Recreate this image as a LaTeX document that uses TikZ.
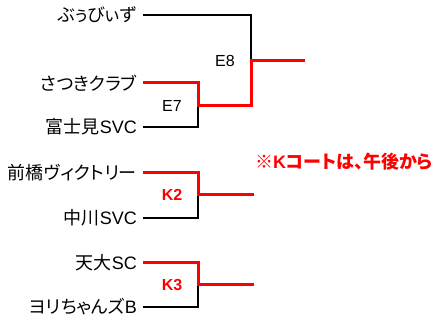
\documentclass[tikz,border=0pt]{standalone}
\usepackage{fontspec}
\setmainfont{Noto Sans CJK JP}[RawFeature={+palt}]
\newfontfamily\lat{Liberation Sans}
\definecolor{bred}{RGB}{255,0,0}
\begin{document}
\begin{tikzpicture}[x=1pt,y=-1pt,
  team/.style={anchor=east,inner sep=0pt,font=\fontsize{18}{18}\selectfont},
  blk/.style={line width=2pt,black},
  win/.style={line width=3pt,bred},
  elab/.style={inner sep=0pt,font=\fontsize{16}{16}\selectfont\lat},
  klab/.style={inner sep=0pt,text=bred,font=\fontsize{16}{16}\selectfont\lat\bfseries},
]
\useasboundingbox (0,0) rectangle (442,320);
% teams
\node[team] (t1) at (137,15) {ぶぅびぃず};
\node[team] (t2) at (137,83) {さつきクラブ};
\node[team] (t3) at (137,127) {富士見{\lat SVC}};
\node[team] (t4) at (137,173) {前橋ヴィクトリー};
\node[team] (t5) at (137,218) {中川{\lat SVC}};
\node[team] (t6) at (137,263) {天大{\lat SC}};
\node[team] (t7) at (137,307) {ヨリちゃんズ{\lat B}};
% coordinates
\coordinate (a1) at (143,15);
\coordinate (a2) at (143,83);
\coordinate (a3) at (143,127);
\coordinate (a4) at (143,173);
\coordinate (a5) at (143,218);
\coordinate (a6) at (143,263);
\coordinate (a7) at (143,307);
\coordinate (e7) at (198,106);
\coordinate (e8) at (251,61);
\coordinate (e8end) at (305,61);
\coordinate (k2) at (198,195);
\coordinate (k2end) at (254,195);
\coordinate (k3) at (198,285);
\coordinate (k3end) at (254,285);
% black lines
\draw[blk] (a1) -| (e8);
\draw[blk] (a3) -| (e7);
\draw[blk] (a5) -| (k2);
\draw[blk] (a7) -| (k3);
% red winner lines
\draw[win] (a2) -| (e7) -| (e8) -- (e8end);
\draw[win] (a4) -| (k2) -- (k2end);
\draw[win] (a6) -| (k3) -- (k3end);
% labels
\node[elab] (l8) at (225,61) {E8};
\node[elab] (l7) at (172,106) {E7};
\node[klab] (lk2) at (172,195) {K2};
\node[klab] (lk3) at (172,285) {K3};
\node[anchor=west,inner sep=0pt,text=bred,font=\fontsize{18}{18}\selectfont\bfseries] (note) at (255,162) {※{\lat K}コートは、午後から};
\end{tikzpicture}
\end{document}
